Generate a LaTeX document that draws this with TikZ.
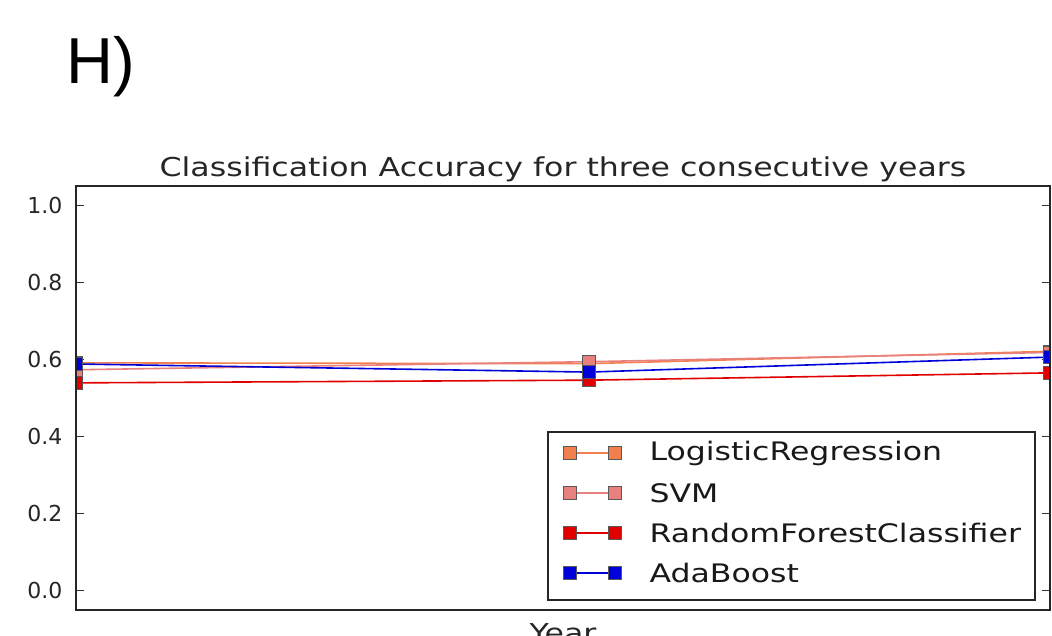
\documentclass[tikz,border=0pt]{standalone}
\usepackage{graphicx}
\usepackage{fontspec}
\setmainfont{DejaVu Sans}
\newfontfamily\panelfont{Liberation Sans}
\usetikzlibrary{positioning}
\definecolor{lrcol}{HTML}{F2804F}
\definecolor{svmcol}{HTML}{E8807E}
\definecolor{rfcol}{HTML}{E00000}
\definecolor{adacol}{HTML}{0000D8}
\newcommand{\wide}[2]{\scalebox{#1}[1]{#2}}

\begin{document}
\begin{tikzpicture}[x=1pt,y=1pt,
 frame/.style={draw=black!85,line width=1.6pt},
 series/.style={line width=1.6pt},
 sqmark/.style={draw=black!65,line width=0.6pt,minimum size=13pt,inner sep=0pt},
 ticklbl/.style={anchor=east,font=\fontsize{22}{26}\selectfont,text=black!85},
 axlbl/.style={anchor=base,font=\fontsize{26}{30}\selectfont,text=black!85},
 legtxt/.style={anchor=west,font=\fontsize{25.5}{30}\selectfont,text=black!90}]
\useasboundingbox (0,0) rectangle (1052,635);
\node[anchor=base west,font=\panelfont\fontsize{65}{70}\selectfont] (panel) at (63,551) {H)};
\node[axlbl] (title) at (563,458) {\wide{1.215}{Classification Accuracy for three consecutive years}};
\node[axlbl] (xlbl) at (563,-7) {\wide{1.215}{Year}};
% data part
\begin{scope}[shift={(0,45)},y=385pt]
 \foreach \v in {0.0,0.2,0.4,0.6,0.8,1.0}{
  \draw[black!80,line width=0.8pt] (76,\v) -- (84,\v) (1050,\v) -- (1042,\v);
  \node[ticklbl] at (66,\v) {\v};
 }
 \begin{scope}
 \clip (76,-0.052) rectangle (1050,1.049);
 \foreach \name/\col/\a/\b/\c in {lr/lrcol/0.590/0.588/0.620,svm/svmcol/0.572/0.593/0.617,
   rf/rfcol/0.538/0.545/0.564,ada/adacol/0.587/0.566/0.605}{
  \draw[series,\col] (76,\a) coordinate (\name1) -- (589,\b) coordinate (\name2) -- (1050,\c) coordinate (\name3);
  \foreach \i in {1,2,3} \node[sqmark,fill=\col] at (\name\i) {};
 }
 \end{scope}
\end{scope}
\draw[frame] (76,25) rectangle (1050,449);
% legend
\draw[black!85,line width=1.5pt,fill=white] (548,35) rectangle (1035,203);
\foreach \key/\col/\txt/\y in {a/lrcol/LogisticRegression/182,b/svmcol/SVM/142,
  c/rfcol/RandomForestClassifier/102,d/adacol/AdaBoost/62}{
 \node[sqmark,fill=\col] (leg\key1) at (570,\y) {};
 \node[sqmark,fill=\col] (leg\key2) at (615,\y) {};
 \draw[series,\col] (leg\key1) -- (leg\key2);
 \node[legtxt] (txt\key) at (646,\y) {\wide{1.237}{\txt}};
}
\end{tikzpicture}
\end{document}
